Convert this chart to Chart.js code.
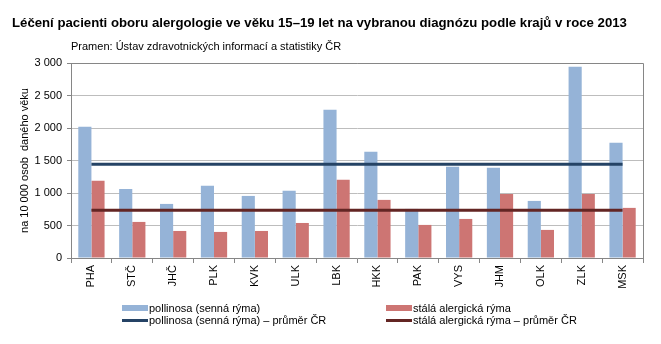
<!DOCTYPE html>
<html>
<head>
<meta charset="utf-8">
<script src="https://cdn.jsdelivr.net/npm/chart.js@4/dist/chart.umd.min.js"></script>
<style>
  body { margin: 0; background: #fff; font-family: "Liberation Sans", Arial, sans-serif; }
  #wrap { position: relative; width: 661px; height: 344px; }
  #chart { position: absolute; left: 0; top: 0; }
  .title { position: absolute; left: 12px; top: 15px; font-size: 13.2px; font-weight: bold; color: #000; white-space: nowrap; }
  .source { position: absolute; left: 71px; top: 40px; font-size: 11px; color: #000; white-space: nowrap; }
  .leg { position: absolute; font-size: 11px; color: #000; white-space: nowrap; display: flex; align-items: center; height: 14px; }
  .leg i { display: inline-block; width: 26px; margin-right: 1px; }
</style>
</head>
<body>
<div id="wrap">
  <canvas id="chart" width="661" height="344"></canvas>
  <div class="title">Léčení pacienti oboru alergologie ve věku 15–19 let na vybranou diagnózu podle krajů v roce 2013</div>
  <div class="source">Pramen: Ústav zdravotnických informací a statistiky ČR</div>
  <div id="legend"></div>
</div>
<script>
// categories (kraje)
const regions = ['PHA', 'STČ', 'JHČ', 'PLK', 'KVK', 'ULK', 'LBK', 'HKK', 'PAK', 'VYS', 'JHM', 'OLK', 'ZLK', 'MSK'];

// values per 10 000 persons of given age
const pollinosa = [2019, 1063, 832, 1110, 955, 1033, 2281, 1634, 755, 1402, 1387, 878, 2943, 1772];
const stalaRyma = [1187, 555, 416, 401, 416, 539, 1202, 894, 509, 601, 986, 432, 986, 771];

// national averages
const pollinosaAvg = [1443, 1443, 1443, 1443, 1443, 1443, 1443, 1443, 1443, 1443, 1443, 1443, 1443, 1443];
const stalaRymaAvg = [735, 735, 735, 735, 735, 735, 735, 735, 735, 735, 735, 735, 735, 735];

const yTicks = [0, 500, 1000, 1500, 2000, 2500, 3000];

const seriesNames = [
    'pollinosa (senná rýma)',
    'stálá alergická rýma',
    'pollinosa (senná rýma) – průměr ČR',
    'stálá alergická rýma – průměr ČR'
];

const colors = {
    blueBar: '#95B3D7',
    redBar: '#CD7573',
    blueLine: '#254365',
    redLine: '#632523',
    grid: '#BDBDBD',
    axis: '#868686'
};

const fmt = v => String(v).replace(/\B(?=(\d{3})+(?!\d))/g, ' ');

// frame around the plot area
const frame = {
    id: 'frame',
    afterDatasetsDraw(chart) {
        const a = chart.chartArea;
        const ctx = chart.ctx;
        ctx.save();
        ctx.strokeStyle = colors.axis;
        ctx.lineWidth = 1;
        ctx.beginPath();
        ctx.moveTo(a.left, Math.round(a.top) + 0.5);
        ctx.lineTo(Math.round(a.right) + 0.5, Math.round(a.top) + 0.5);
        ctx.lineTo(Math.round(a.right) + 0.5, a.bottom);
        ctx.stroke();
        ctx.restore();
    }
};

const chart = new Chart(document.getElementById('chart'), {
    type: 'bar',
    data: {
        labels: regions,
        datasets: [
            { type: 'line', label: seriesNames[2], data: pollinosaAvg, borderColor: colors.blueLine, backgroundColor: colors.blueLine, borderWidth: 3, pointRadius: 0, order: 0 },
            { type: 'line', label: seriesNames[3], data: stalaRymaAvg, borderColor: colors.redLine, backgroundColor: colors.redLine, borderWidth: 3, pointRadius: 0, order: 0 },
            { label: seriesNames[0], data: pollinosa, backgroundColor: colors.blueBar, order: 1 },
            { label: seriesNames[1], data: stalaRyma, backgroundColor: colors.redBar, order: 1 }
        ]
    },
    options: {
        responsive: false,
        animation: false,
        events: [],
        layout: { padding: { left: 0, right: 18, top: 63, bottom: 0 } },
        datasets: {
            bar: { categoryPercentage: 0.643, barPercentage: 1 }
        },
        plugins: {
            legend: { display: false },
            title: { display: false },
            tooltip: { enabled: false }
        },
        scales: {
            x: {
                offset: true,
                grid: { offset: true, drawOnChartArea: false, drawTicks: true, tickLength: 5, tickColor: colors.axis },
                border: { color: colors.axis },
                ticks: {
                    minRotation: 90, maxRotation: 90, padding: 2,
                    color: '#000', font: { family: 'Liberation Sans', size: 11 }
                },
                afterFit: s => { s.height = 86; }
            },
            y: {
                min: 0, max: 3000,
                afterBuildTicks: s => { s.ticks = yTicks.map(v => ({ value: v })); },
                grid: { color: colors.grid, tickLength: 4, tickColor: colors.axis },
                border: { color: colors.axis },
                ticks: {
                    padding: 5, color: '#000',
                    font: { family: 'Liberation Sans', size: 11 },
                    callback: v => fmt(v)
                },
                title: {
                    display: true, text: 'na 10 000 osob  daného věku', color: '#000',
                    font: { family: 'Liberation Sans', size: 11 },
                    padding: { top: 18, bottom: 0 }
                },
                afterFit: s => { s.width = 71; }
            }
        }
    },
    plugins: [frame]
});

// legend in two columns, as in the source
const legendPos = [
    { ds: 2, x: 122, y: 301, line: false },
    { ds: 3, x: 386, y: 301, line: false },
    { ds: 0, x: 122, y: 313, line: true },
    { ds: 1, x: 386, y: 313, line: true }
];
const legendEl = document.getElementById('legend');
legendPos.forEach(p => {
    const ds = chart.data.datasets[p.ds];
    const item = document.createElement('div');
    item.className = 'leg';
    item.style.left = p.x + 'px';
    item.style.top = p.y + 'px';
    const mark = document.createElement('i');
    mark.style.height = p.line ? '3px' : '6px';
    mark.style.background = ds.backgroundColor;
    const txt = document.createElement('span');
    txt.textContent = ds.label;
    item.appendChild(mark);
    item.appendChild(txt);
    legendEl.appendChild(item);
});
</script>
</body>
</html>
